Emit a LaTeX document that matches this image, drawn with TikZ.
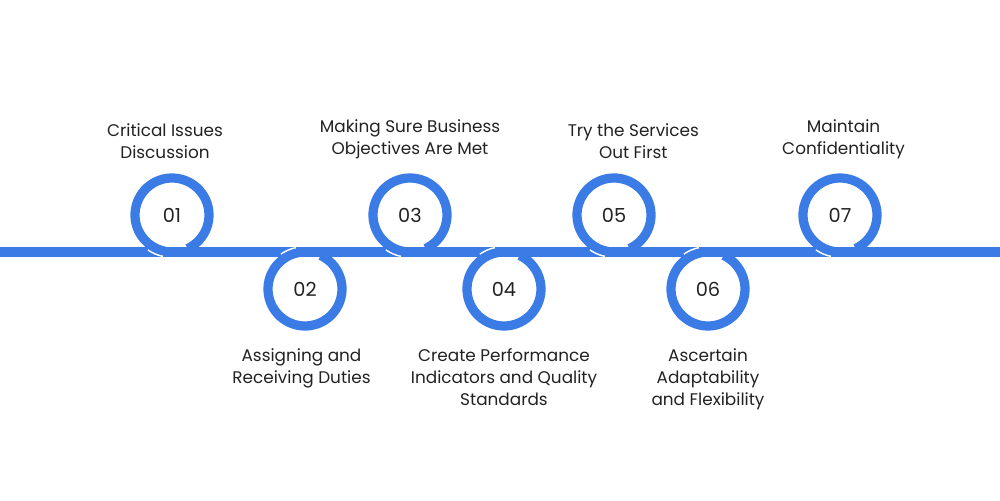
\documentclass[tikz,border=0pt]{standalone}
\usepackage{fontspec}
\setmainfont{Poppins}
\usetikzlibrary{positioning}
\definecolor{stepblue}{HTML}{3B7BE6}
\definecolor{txt}{HTML}{222222}
\tikzset{
  ring/.style={draw=stepblue, line width=7.5pt*0.7},
  gap/.style={draw=white, line width=7pt},
  num/.style={font=\fontsize{11}{13}\selectfont, text=txt},
  lbl/.style={font=\fontsize{9.6}{12.5}\selectfont, text=txt, align=center},
}
\begin{document}
\begin{tikzpicture}[x=0.02cm,y=-0.02cm]
  \useasboundingbox (0,0) rectangle (1000,500);
  % main line
  \coordinate (west) at (0,252);
  \coordinate (east) at (1000,252);
  \draw[stepblue, line width=7.5pt*0.7] (west) -- (east);
  % upper circles
  \foreach \n/\x in {01/172,03/410,05/614,07/840}{
    \coordinate (c\n) at (\x,215);
    \draw[gap] (c\n) ++(125:37) arc[start angle=125, end angle=102, radius=37];
    \draw[ring] (c\n) ++(65:37) arc[start angle=65, end angle=-270, radius=37];
    \node[num] (n\n) at (c\n) {\n};
  }
  % lower circles
  \foreach \n/\x in {02/305,04/504,06/708}{
    \coordinate (c\n) at (\x,289);
    \draw[gap] (c\n) ++(-125:37) arc[start angle=-125, end angle=-102, radius=37];
    \draw[ring] (c\n) ++(-65:37) arc[start angle=-65, end angle=270, radius=37];
    \node[num] (n\n) at (c\n) {\n};
  }
  % labels
  \node[lbl, above=21pt of n01, xshift=-4pt] (t01) {Critical Issues\\Discussion};
  \node[lbl, above=21pt of n03] (t03) {Making Sure Business\\Objectives Are Met};
  \node[lbl, above=21pt of n05, xshift=11pt] (t05) {Try the Services\\Out First};
  \node[lbl, above=21pt of n07, xshift=2pt] (t07) {Maintain\\Confidentiality};
  \node[lbl, below=23pt of n02, xshift=-2pt] (t02) {Assigning and\\Receiving Duties};
  \node[lbl, below=23pt of n04] (t04) {Create Performance\\Indicators and Quality\\Standards};
  \node[lbl, below=23pt of n06] (t06) {Ascertain\\Adaptability\\and Flexibility};
\end{tikzpicture}
\end{document}
